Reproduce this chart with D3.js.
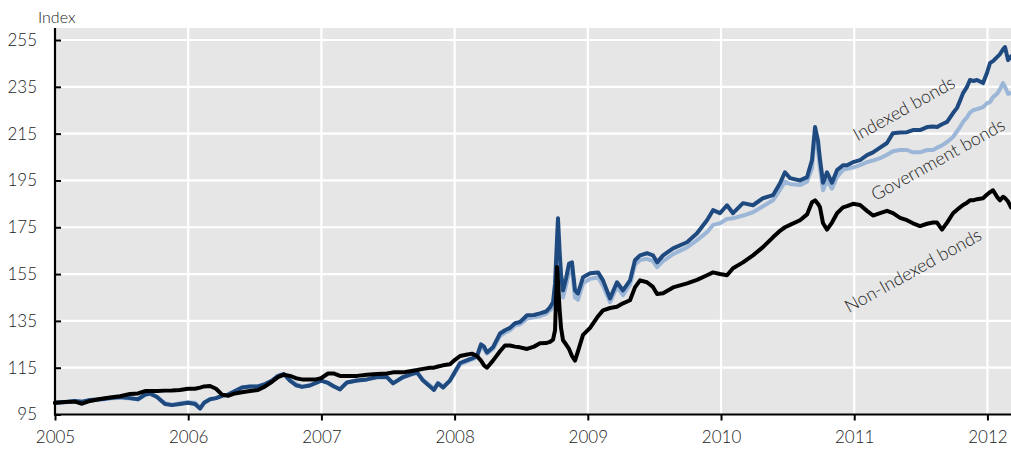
<!DOCTYPE html>
<html>
<head>
<meta charset="utf-8">
<script src="https://cdn.jsdelivr.net/npm/d3@7"></script>
<style>
  html, body { margin: 0; padding: 0; background: #fff; }
  svg { display: block; }
  text { font-family: Lato, "Open Sans", sans-serif; font-weight: 300; fill: #222; }
</style>
</head>
<body>
<svg id="chart" width="1011" height="451"></svg>
<script>
// Time in decimal years
const years = [2005.000,2005.075,2005.150,2005.203,2005.263,2005.338,2005.413,2005.488,2005.563,2005.623,2005.676,2005.713,2005.766,2005.826,2005.878,2005.938,2005.998,2006.051,2006.089,2006.119,2006.164,2006.209,2006.254,2006.299,2006.351,2006.404,2006.464,2006.524,2006.577,2006.629,2006.674,2006.719,2006.764,2006.809,2006.854,2006.914,2006.959,2006.997,2007.050,2007.095,2007.140,2007.192,2007.267,2007.342,2007.417,2007.492,2007.538,2007.613,2007.665,2007.718,2007.763,2007.815,2007.845,2007.875,2007.913,2007.965,2007.995,2008.041,2008.086,2008.131,2008.168,2008.198,2008.221,2008.243,2008.288,2008.341,2008.378,2008.416,2008.453,2008.491,2008.544,2008.596,2008.641,2008.686,2008.716,2008.739,2008.754,2008.769,2008.776,2008.788,2008.799,2008.814,2008.836,2008.859,2008.881,2008.904,2008.926,2008.964,2009.017,2009.077,2009.114,2009.167,2009.219,2009.264,2009.317,2009.354,2009.392,2009.444,2009.489,2009.520,2009.565,2009.640,2009.745,2009.820,2009.895,2009.940,2009.992,2010.045,2010.090,2010.165,2010.240,2010.315,2010.390,2010.443,2010.480,2010.518,2010.593,2010.646,2010.683,2010.706,2010.728,2010.743,2010.766,2010.796,2010.833,2010.871,2010.916,2010.946,2010.991,2011.044,2011.096,2011.141,2011.194,2011.246,2011.291,2011.344,2011.396,2011.441,2011.494,2011.547,2011.592,2011.622,2011.659,2011.697,2011.742,2011.772,2011.794,2011.817,2011.847,2011.869,2011.892,2011.922,2011.967,2011.997,2012.020,2012.042,2012.072,2012.095,2012.117,2012.132,2012.155,2012.177];

const indexedBonds = [100,100.3,100.8,100.5,101.2,101.5,102,102.5,102,101.5,103.5,104,102.5,99.5,99,99.5,100,99.5,97.5,100,101.5,102,103,103.5,105,106.5,107,107,108,109.5,111.5,112.3,109.5,107.5,106.8,107.4,108.5,109.5,108.5,107,105.7,108.7,109.5,110,111,111,108.3,111,112,113,109.5,107,105.5,108.3,106.5,109.5,112.5,117,118,119,120,125,124,121.5,123.7,129.6,131,132,134,134.5,137.4,137.5,138.2,139,140.8,143,151,170,178.8,165,155,148,153,159.5,160,148,146.7,153.6,155.3,155.7,152.3,144.6,151.5,148,152.3,160.9,163,163.9,163,160,163,166,168.6,172.4,178,182.3,181,184.4,181,185.3,184.4,187.4,188.7,193.8,198.5,196,195,196.4,203.7,217.8,212,204,194,198.5,194,199.4,201.5,201.5,202.8,203.7,205.8,207,209,211,215.2,215.5,215.6,216.5,216.5,217.8,218,217.8,219,220,223.8,226,229,232.3,235,237.9,237.5,237.9,236.6,241,245.2,246,247.7,249,251,252,246.4,248];

const governmentBonds = [100,100.2,100.6,100.4,101,101.3,101.8,102.3,101.8,101.5,103.3,103.8,102.5,99.8,99.2,99.8,100.2,100,98,100,101.5,102,103,103.5,105,106.5,107,107,108,109.3,111.3,112,109.5,108,107,107.5,108.5,109.5,108.5,107,106,108.7,109.5,110,110.8,110.8,108.5,110.8,111.8,112.8,109.8,107.5,106,108.5,107,109.5,112,116.5,117.5,118.5,119.5,124,123,121,123,128.5,130,131,133,133.5,136,136.5,137,138,139.5,141,148,160,170,158,150,145,150,156,157,145,144,151,153,153.5,150,143,149.5,146,150.5,159,161,161.5,160.5,158,160.5,163.5,166.4,169.5,172.9,176,176.7,178.5,178.8,180,181.4,184,186.5,191,194.5,193.5,193,194.5,200,215,208,200,190.8,195,191.5,196.5,199.5,200,200.5,201.5,202.8,203.5,204.5,206,207.5,208,208,207,207,208,208,209,210,211.4,213.6,216,217.8,220,222,224,225,225.5,226.3,228,228.5,230.6,232,234,236.6,235,232,232.3];

const nonIndexedBonds = [100,100.3,100.5,99.6,100.8,101.6,102.3,102.8,103.8,104,105,105,105,105.2,105.3,105.5,106,106,106.5,107,107.2,106,103.5,103,104,104.5,105,105.5,107,109,111,112,111.5,110.5,110,110,110,110.5,112.5,112.5,111.5,111.5,111.5,112,112.3,112.5,113,113,113.5,114,114.5,115,115,115.5,116,116.5,118,120,120.5,121,120,118,116,115,118,122,124.5,124.5,124,123.7,123,124,125.4,125.5,126,127,131,158,152,140,132,126.7,125,123,120,118,122,129,132,137,139.5,140.5,141,142.5,143.8,149.3,152.3,151.5,149.5,146.5,146.8,149.3,151,152.5,154.5,155.7,155,154.5,157.5,160,163,166.5,170.7,173.5,175,176,178,180.5,185.7,186.5,185,183.5,176.7,174,177,181,183.5,184,185,184.5,182,180,181,182,181,179,178,176.7,175.5,176.5,177,177,174,177,181,182.5,183.5,184.5,185.5,186.5,186.5,187,187.4,189,190,190.8,188,186.5,188,187.5,186,183.5];

const yTicks = [95,115,135,155,175,195,215,235,255];
const xTicks = [2005,2006,2007,2008,2009,2010,2011,2012];
const seriesNames = ["Government bonds","Indexed bonds","Non-Indexed bonds"];
const seriesColors = ["#9cb6d8","#1f4a80","#000000"];

const svg = d3.select("#chart");
const plotL = 55, plotR = 1011, plotT = 28, plotB = 414.5;

const x = d3.scaleLinear().domain([2005, 2012.177]).range([plotL, plotR]);
const y = d3.scaleLinear().domain([95, 255]).range([plotB, 40]);

// background
svg.append("rect").attr("x", plotL).attr("y", plotT)
  .attr("width", plotR - plotL).attr("height", plotB - plotT)
  .attr("fill", "#e6e6e6");

// gridlines
svg.append("g").selectAll("line").data(yTicks.filter(d => d > 95)).join("line")
  .attr("x1", plotL).attr("x2", plotR)
  .attr("y1", d => y(d)).attr("y2", d => y(d))
  .attr("stroke", "#fff").attr("stroke-width", 2.2);
svg.append("g").selectAll("line").data(xTicks.filter(d => d > 2005)).join("line")
  .attr("x1", d => x(d)).attr("x2", d => x(d))
  .attr("y1", plotT).attr("y2", plotB)
  .attr("stroke", "#fff").attr("stroke-width", 2.2);

// series
const dataSets = [governmentBonds, indexedBonds, nonIndexedBonds];
const line = d3.line().x(d => x(d[0])).y(d => y(d[1])).curve(d3.curveLinear);
svg.append("g").selectAll("path").data(dataSets).join("path")
  .attr("d", vals => line(years.map((t, i) => [t, vals[i]])))
  .attr("fill", "none")
  .attr("stroke", (d, i) => seriesColors[i])
  .attr("stroke-width", 4)
  .attr("stroke-linejoin", "round")
  .attr("stroke-linecap", "round");

// axes
const yAxis = d3.axisLeft(y).tickValues(yTicks).tickSize(-6).tickPadding(18).tickFormat(d3.format("d"));
const gy = svg.append("g").attr("transform", `translate(${plotL},0)`).call(yAxis);
gy.select(".domain").attr("d", `M0,${plotT}V${plotB + 1}`).attr("stroke", "#000").attr("stroke-width", 2.2);
gy.selectAll(".tick line").attr("stroke", "#000").attr("stroke-width", 2);
gy.selectAll(".tick text").attr("font-size", 17).attr("font-family", "Lato, 'Open Sans', sans-serif").attr("fill", "#222");

const xAxis = d3.axisBottom(x).tickValues(xTicks).tickSize(6).tickPadding(10).tickFormat(d3.format("d"));
const gx = svg.append("g").attr("transform", `translate(0,${plotB})`).call(xAxis);
gx.select(".domain").attr("d", `M${plotL - 1},0H${plotR}`).attr("stroke", "#000").attr("stroke-width", 2.2);
gx.selectAll(".tick line").attr("stroke", "#000").attr("stroke-width", 2);
gx.selectAll(".tick text").attr("font-size", 17).attr("font-family", "Lato, 'Open Sans', sans-serif").attr("fill", "#222");

// axis title
svg.append("text").attr("x", 38).attr("y", 23).attr("font-size", 16).text("Index");

// series labels
const labels = [
  { name: seriesNames[1], cx: 907, cy: 114 },
  { name: seriesNames[0], cx: 941, cy: 165 },
  { name: seriesNames[2], cx: 916, cy: 276 }
];
svg.append("g").selectAll("text").data(labels).join("text")
  .attr("transform", d => `translate(${d.cx},${d.cy}) rotate(-29)`)
  .attr("text-anchor", "middle")
  .attr("font-size", 18)
  .text(d => d.name);
</script>
</body>
</html>
